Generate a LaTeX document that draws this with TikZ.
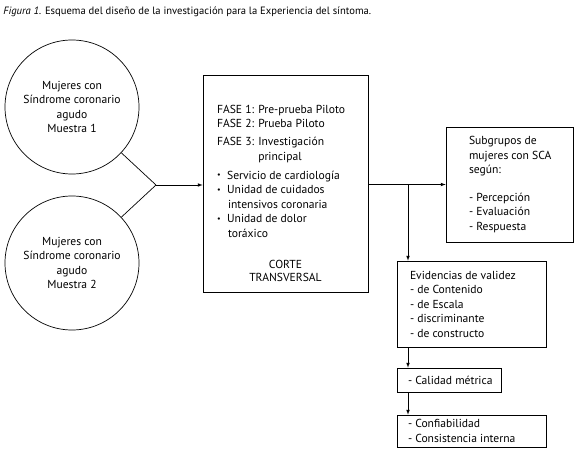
\documentclass[tikz,border=0pt]{standalone}
\usepackage{fontspec}
\setmainfont{PT Sans}
\usetikzlibrary{positioning}

\newcommand{\punto}{\raisebox{1.3pt}{\fontsize{8}{8}\selectfont •}\hspace{6.5pt}}

\begin{document}
\begin{tikzpicture}[x=1pt,y=-1pt,line width=0.7pt,
  every node/.style={font=\fontsize{11.6}{14.5}\selectfont},
  muestra/.style={draw,circle,minimum size=134pt,inner sep=0pt,align=center},
  caja/.style={draw,rectangle,inner sep=0pt},
  texto/.style={inner sep=0pt,align=left}]

\useasboundingbox (0,0) rectangle (577,462);

\node[texto,anchor=west,font=\fontsize{10.6}{12}\selectfont] (titulo) at (3,12)
  {\textit{Figura 1.} Esquema del diseño de la investigación para la Experiencia del síntoma.};

% muestras
\node[muestra] (m1) at (72,107) {Mujeres con\\Síndrome coronario\\agudo\\Muestra 1};
\node[muestra] (m2) at (72,263) {Mujeres con\\Síndrome coronario\\agudo\\Muestra 2};
\coordinate (union) at (156,185);

% fases
\node[caja,minimum width=165pt,minimum height=217pt] (fases) at (285.5,183.5) {};
\node[texto,anchor=north west] (lista) at ([shift={(14pt,-30pt)}]fases.north west)
  {FASE 1: Pre-prueba Piloto\\
   FASE 2: Prueba Piloto\\[3.5pt]
   FASE 3: Investigación\\
   \phantom{FASE 3: }principal\\[4.5pt]
   \punto Servicio de cardiología\\
   \punto Unidad de cuidados\\
   \hspace*{11pt}intensivos coronaria\\
   \punto Unidad de dolor\\
   \hspace*{11pt}toráxico};
\node[texto,align=center,font=\fontsize{11.6}{13.5}\selectfont,above=10pt of fases.south] (corte)
  {CORTE\\TRANSVERSAL};

% resultados
\node[caja,minimum width=127pt,minimum height=115pt] (sub) at (509.5,184.5) {};
\node[texto,anchor=west] (subtexto) at ([xshift=23pt]sub.west)
  {Subgrupos de\\mujeres con SCA\\según:\\[13pt]- Percepción\\- Evaluación\\- Respuesta};
\coordinate (rama) at (408,185);

\node[caja,minimum width=149pt,minimum height=86pt] (evid) at (471.5,304) {};
\node[texto,anchor=west] (evidtexto) at ([xshift=13pt]evid.west)
  {Evidencias de validez\\- de Contenido\\- de Escala\\- discriminante\\- de constructo};

\node[caja,minimum width=104pt,minimum height=24pt] (calidad) at (449,380) {};
\node[texto,anchor=west] (calidadtexto) at ([xshift=11pt]calidad.west) {- Calidad métrica};

\node[caja,minimum width=149pt,minimum height=32pt] (confi) at (471.5,431) {};
\node[texto,anchor=west] (confitexto) at ([xshift=11pt]confi.west)
  {- Confiabilidad\\- Consistencia interna};

% conexiones
\draw (m1) -- (union);
\draw (m2) -- (union);
\draw[-latex] (union) -- (union -| fases.west);
\draw[-latex] (fases.east |- sub.west) -- (sub.west);
\draw[-latex] (rama) -- (rama |- evid.north);
\draw[-latex] (rama |- evid.south) -- (rama |- calidad.north);
\draw[-latex] (rama |- calidad.south) -- (rama |- confi.north);
\end{tikzpicture}
\end{document}
